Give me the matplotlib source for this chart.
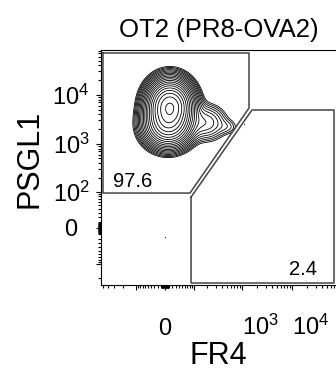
import numpy as np
import matplotlib
matplotlib.use("Agg")
import matplotlib.pyplot as plt
from matplotlib.ticker import FixedLocator, FixedFormatter

plt.rcParams['font.family'] = ['Liberation Sans', 'DejaVu Sans']
plt.rcParams['mathtext.fontset'] = 'custom'
plt.rcParams['mathtext.rm'] = 'Liberation Sans'
plt.rcParams['mathtext.it'] = 'Liberation Sans:italic'
plt.rcParams['mathtext.bf'] = 'Liberation Sans:bold'

title = "OT2 (PR8-OVA2)"
x_name = "FR4"
y_name = "PSGL1"

x_width = 57.7
y_width = 38.2
x_range = [-548, 75800]
y_range = [-277, 82000]

x_major = [-100, 0, 100, 1000, 10000]
x_major_labels = ['', '0', '', r'$10^3$', r'$10^4$']
y_major = [-100, 0, 100, 1000, 10000]
y_major_labels = ['', '0', r'$10^2$', r'$10^3$', r'$10^4$']

# gates (FR4, PSGL1)
gate_hi_x = [-500, 1380, 1380, 82, -500, -500]
gate_hi_y = [71300, 71300, 5375, 95, 95, 71300]
gate_lo_x = [87, 87, 69200, 69200, 1582, 87]
gate_lo_y = [77, -252, -252, 4890, 4890, 77]
gate_pct = ["97.6", "2.4"]

# population: centre (FR4, PSGL1), spread in decades, relative weight
pop_x = [13, 8, 190, 540]
pop_y = [5900, 2400, 2700, 2200]
pop_sx = [0.21, 0.23, 0.22, 0.13]
pop_sy = [0.245, 0.22, 0.2, 0.10]
pop_w = [1.0, 0.4, 0.03, 0.006]

# stray events
dots_x = [0, 1096, -73]
dots_y = [-17, 2530, 1037]

LN10 = np.log(10)


def fwd_x(v):
    return np.arcsinh(np.asarray(v, dtype=float) / x_width) / LN10


def inv_x(t):
    return x_width * np.sinh(np.asarray(t, dtype=float) * LN10)


def fwd_y(v):
    return np.arcsinh(np.asarray(v, dtype=float) / y_width) / LN10


def inv_y(t):
    return y_width * np.sinh(np.asarray(t, dtype=float) * LN10)


def minor_ticks(lo, hi, majors):
    vals = []
    for n in range(0, 5):
        for k in range(1, 10):
            for s in (-1, 1):
                v = s * k * 10 ** n
                if lo <= v <= hi and v not in majors:
                    vals.append(v)
    return sorted(vals)


fig = plt.figure(figsize=(3.36, 3.72), dpi=100)
ax = fig.add_axes([101 / 336, 1 - 285 / 372, 235 / 336, 235 / 372])
ax.set_xscale('function', functions=(fwd_x, inv_x))
ax.set_yscale('function', functions=(fwd_y, inv_y))
ax.set_xlim(x_range)
ax.set_ylim(y_range)

# density on a grid in display (decade) space
tx = np.linspace(fwd_x(x_range[0]), fwd_x(x_range[1]), 400)
ty = np.linspace(fwd_y(y_range[0]), fwd_y(y_range[1]), 400)
TX, TY = np.meshgrid(tx, ty)
Z = np.zeros_like(TX)
for cx, cy, sx, sy, w in zip(pop_x, pop_y, pop_sx, pop_sy, pop_w):
    Z += w * np.exp(-0.5 * ((TX - fwd_x(cx)) / sx) ** 2
                    - 0.5 * ((TY - fwd_y(cy)) / sy) ** 2)
levels = np.geomspace(Z.max() * 0.004, Z.max() * 0.93, 20)
ax.contour(inv_x(TX), inv_y(TY), Z, levels=levels, colors='black',
           linewidths=0.6)
ax.plot(dots_x, dots_y, 'o', color='black', ms=0.8, mew=0)

ax.plot(gate_hi_x, gate_hi_y, color='#444444', lw=1.1)
ax.plot(gate_lo_x, gate_lo_y, color='#444444', lw=1.1)
ax.text(0.051, 0.417, gate_pct[0], transform=ax.transAxes, fontsize=14.5,
        ha='left', va='baseline')
ax.text(0.919, 0.043, gate_pct[1], transform=ax.transAxes, fontsize=14.5,
        ha='right', va='baseline')

ax.xaxis.set_major_locator(FixedLocator(x_major))
ax.xaxis.set_major_formatter(FixedFormatter(x_major_labels))
ax.xaxis.set_minor_locator(FixedLocator(minor_ticks(*x_range, x_major)))
ax.yaxis.set_major_locator(FixedLocator(y_major))
ax.yaxis.set_major_formatter(FixedFormatter(y_major_labels))
ax.yaxis.set_minor_locator(FixedLocator(minor_ticks(*y_range, y_major)))
ax.xaxis.set_minor_formatter(FixedFormatter([]))
ax.yaxis.set_minor_formatter(FixedFormatter([]))

ax.tick_params(which='both', direction='out', width=0.8, labelsize=17)
ax.tick_params(which='major', length=3.6)
ax.tick_params(which='minor', length=2.2)
ax.tick_params(axis='y', which='major', pad=18)
ax.tick_params(axis='x', which='major', pad=32.4)
for lab in ax.get_yticklabels():
    lab.set_horizontalalignment('center')
for lab in ax.get_xticklabels():
    lab.set_verticalalignment('baseline')
    if lab.get_text() != '0':
        lab.set_horizontalalignment('left')

for s in ['top', 'left', 'bottom']:
    ax.spines[s].set_linewidth(0.8)
ax.spines['right'].set_visible(False)

ax.set_title(title, fontsize=18.5, pad=9.4)
ax.set_xlabel(x_name, fontsize=22)
ax.set_ylabel(y_name, fontsize=22)
ax.xaxis.set_label_coords(0.5, -0.336)
ax.xaxis.label.set_va('baseline')
ax.yaxis.set_label_coords(-0.272, 0.536)
ax.yaxis.label.set_va('baseline')

fig.savefig('out.png', dpi=100)
